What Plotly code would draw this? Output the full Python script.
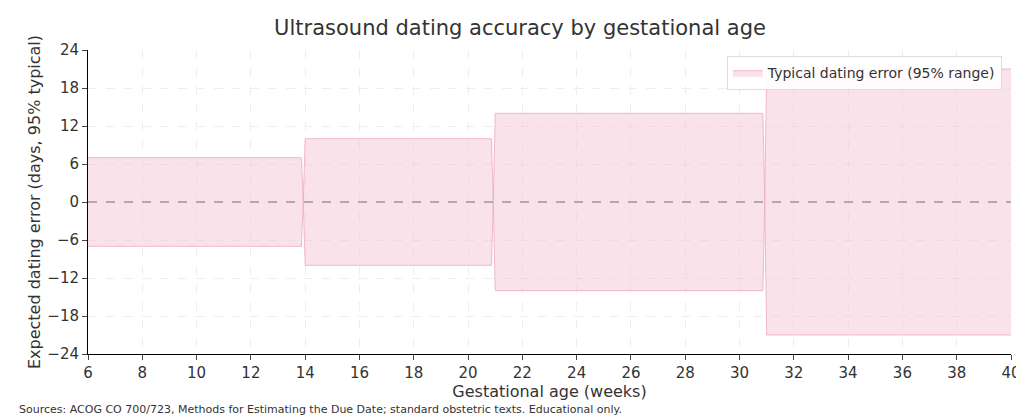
import plotly.graph_objects as go

# gestational-age bands (weeks) and typical 95% dating error (days)
band_start = [6, 14, 21, 31]
band_end = [13.86, 20.86, 30.86, 40]
band_error = [7, 10, 14, 21]

x, upper = [], []
for i, (s, e, err) in enumerate(zip(band_start, band_end, band_error)):
    x += [s, e]
    upper += [err, err]
    if i < len(band_start) - 1:
        x.append((e + band_start[i + 1]) / 2)
        upper.append(0)
lower = [-v for v in upper]

fill = "rgba(244,190,208,0.45)"
edge = "rgba(236,170,195,0.8)"

fig = go.Figure()
fig.add_trace(go.Scatter(x=x, y=lower, mode="lines", line=dict(color=edge, width=1),
                         showlegend=False, hoverinfo="skip"))
fig.add_trace(go.Scatter(x=x, y=upper, mode="lines", line=dict(color=edge, width=1),
                         fill="tonexty", fillcolor=fill, name="Typical dating error (95% range)"))
fig.add_hline(y=0, line=dict(color="#999999", width=1.3, dash="dash"))

fig.update_layout(
    width=1024, height=415,
    margin=dict(l=80, r=21, t=42, b=69),
    plot_bgcolor="white", paper_bgcolor="white",
    font=dict(family="DejaVu Sans", color="#333333", size=15),
    title=dict(text="Ultrasound dating accuracy by gestational age", x=0.5, y=0.97,
               xanchor="center", font=dict(size=21)),
    legend=dict(x=0.99, y=0.98, xanchor="right", yanchor="top", bgcolor="rgba(255,255,255,0.9)",
                bordercolor="#dddddd", borderwidth=1, font=dict(size=14)),
    xaxis=dict(range=[6, 40], dtick=2, showline=True, linecolor="black", ticks="outside",
               gridcolor="#eeeeee", griddash="dash", zeroline=False, automargin=False,
               tickfont=dict(size=15),
               title=dict(text="Gestational age (weeks)", standoff=2, font=dict(size=16))),
    yaxis=dict(range=[-24, 24], dtick=6, showline=True, linecolor="black", ticks="outside",
               gridcolor="#eeeeee", griddash="dash", zeroline=False, automargin=False,
               tickformat="d", tickfont=dict(size=15),
               title=dict(text="Expected dating error (days, 95% typical)", standoff=2, font=dict(size=16))),
)
fig.add_annotation(text="Sources: ACOG CO 700/723, Methods for Estimating the Due Date; standard obstetric texts. Educational only.",
                   xref="paper", yref="paper", x=-0.077, y=-0.155, xanchor="left", yanchor="top",
                   showarrow=False, font=dict(size=11, color="#333333"))
fig.write_html("out.html")
